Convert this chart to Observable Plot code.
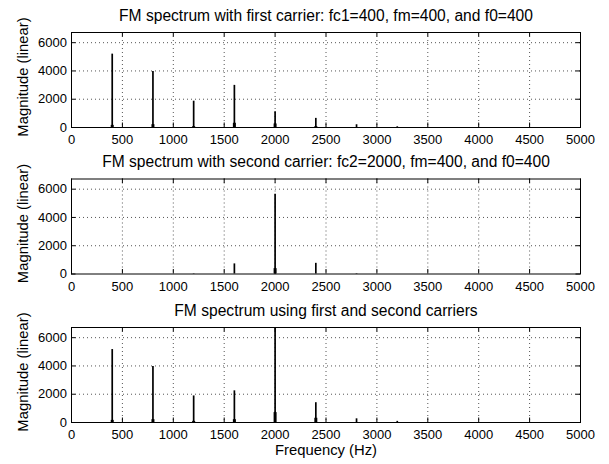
<!DOCTYPE html>
<html>
<head>
<meta charset="utf-8">
<script src="https://cdn.jsdelivr.net/npm/d3@7"></script>
<script src="https://cdn.jsdelivr.net/npm/@observablehq/plot@0.6"></script>
<style>
  html, body { margin: 0; padding: 0; background: #fff; }
  #chart { width: 609px; height: 464px; overflow: hidden; }
  #chart svg { display: block; }
</style>
</head>
<body>
<div id="chart"></div>
<script>
// ---- Data ----
const titles = [
  "FM spectrum with first carrier: fc1=400, fm=400, and f0=400",
  "FM spectrum with second carrier: fc2=2000, fm=400, and f0=400",
  "FM spectrum using first and second carriers"
];
const yLabel = "Magnitude (linear)";
const xLabel = "Frequency (Hz)";
const xTicks = [0, 500, 1000, 1500, 2000, 2500, 3000, 3500, 4000, 4500, 5000];
const yTicks = [0, 2000, 4000, 6000];
const xDomain = [0, 5000];
const yDomain = [0, 6720];

// panel 1: first carrier
const freqs1 = [400, 800, 1200, 1600, 2000, 2400, 2800, 3200];
const mag1   = [5190, 3960, 1860, 2980, 1120, 645, 195, 50];
const base1  = [150, 200, 60, 300, 250, 60, 0, 0];
// panel 2: second carrier
const freqs2 = [1200, 1600, 2000, 2400, 2800];
const mag2   = [25, 715, 5640, 755, 30];
const base2  = [0, 0, 380, 0, 0];
// panel 3: both carriers
const freqs3 = [400, 800, 1200, 1600, 2000, 2400, 2800, 3200];
const mag3   = [5160, 3960, 1880, 2240, 6720, 1400, 260, 80];
const base3  = [150, 200, 80, 200, 700, 300, 0, 0];

// ---- Layout ----
const W = 609;
const ML = 71, MR = 29;
const PH = 95;
const PW = W - ML - MR;
const TICK = 4.5;
const FONT = "'Liberation Sans', Arial, Helvetica, sans-serif";

const panels = [
  {freqs: freqs1, mags: mag1, bases: base1, title: titles[0], height: 147, mt: 32, xlabel: false},
  {freqs: freqs2, mags: mag2, bases: base2, title: titles[1], height: 148, mt: 31.5, xlabel: false},
  {freqs: freqs3, mags: mag3, bases: base3, title: titles[2], height: 169, mt: 32, xlabel: true}
];

const root = document.getElementById("chart");

panels.forEach(p => {
  const rows = p.freqs.map((f, i) => ({f, m: p.mags[i], b: p.bases[i]}));
  const mb = p.height - p.mt - PH;
  const marks = [
    // dotted grid
    Plot.ruleX(xTicks.slice(1, -1), {x: d => d, stroke: "#555", strokeWidth: 1, strokeDasharray: "1,3"}),
    Plot.ruleY(yTicks.slice(1), {y: d => d, stroke: "#555", strokeWidth: 1, strokeDasharray: "1,3"}),
    // spectrum spikes
    Plot.ruleX(rows, {x: "f", y1: 0, y2: "m", stroke: "#000", strokeWidth: 1.7}),
    Plot.ruleX(rows.filter(d => d.b > 0), {x: "f", y1: 0, y2: "b", stroke: "#000", strokeWidth: 3}),
    // inward ticks
    Plot.ruleX(xTicks, {x: d => d, insetTop: PH - TICK, stroke: "#000"}),
    Plot.ruleX(xTicks, {x: d => d, insetBottom: PH - TICK, stroke: "#000"}),
    Plot.ruleY(yTicks, {y: d => d, insetRight: PW - TICK, stroke: "#000"}),
    Plot.ruleY(yTicks, {y: d => d, insetLeft: PW - TICK, stroke: "#000"}),
    Plot.frame({stroke: "#000", strokeWidth: 1}),
    // axes labels
    Plot.axisX(xTicks, {tickSize: 0, tickPadding: 7.5, tickFormat: d => `${d}`, fontSize: 13, label: null}),
    Plot.axisY(yTicks, {tickSize: 0, tickPadding: 4.5, tickFormat: d => `${d}`, fontSize: 13, label: null}),
    // title
    Plot.text([p.title], {text: d => d, frameAnchor: "top", dy: -17, fontSize: 15.6, lineAnchor: "middle", textAnchor: "middle", fill: "#000"}),
    // y label
    Plot.text([yLabel], {text: d => d, frameAnchor: "left", dx: -48, dy: -3, rotate: -90, fontSize: 14.8, lineAnchor: "middle", textAnchor: "middle", fill: "#000"})
  ];
  if (p.xlabel) {
    marks.push(Plot.text([xLabel], {text: d => d, frameAnchor: "bottom", dy: 27.5, fontSize: 14.8, lineAnchor: "middle", textAnchor: "middle", fill: "#000"}));
  }
  const svg = Plot.plot({
    width: W,
    height: p.height,
    marginLeft: ML,
    marginRight: MR,
    marginTop: p.mt,
    marginBottom: mb,
    x: {domain: xDomain, axis: null},
    y: {domain: yDomain, axis: null},
    style: {fontFamily: FONT, color: "#000", background: "#fff", overflow: "visible"},
    marks
  });
  root.appendChild(svg);
});
</script>
</body>
</html>
